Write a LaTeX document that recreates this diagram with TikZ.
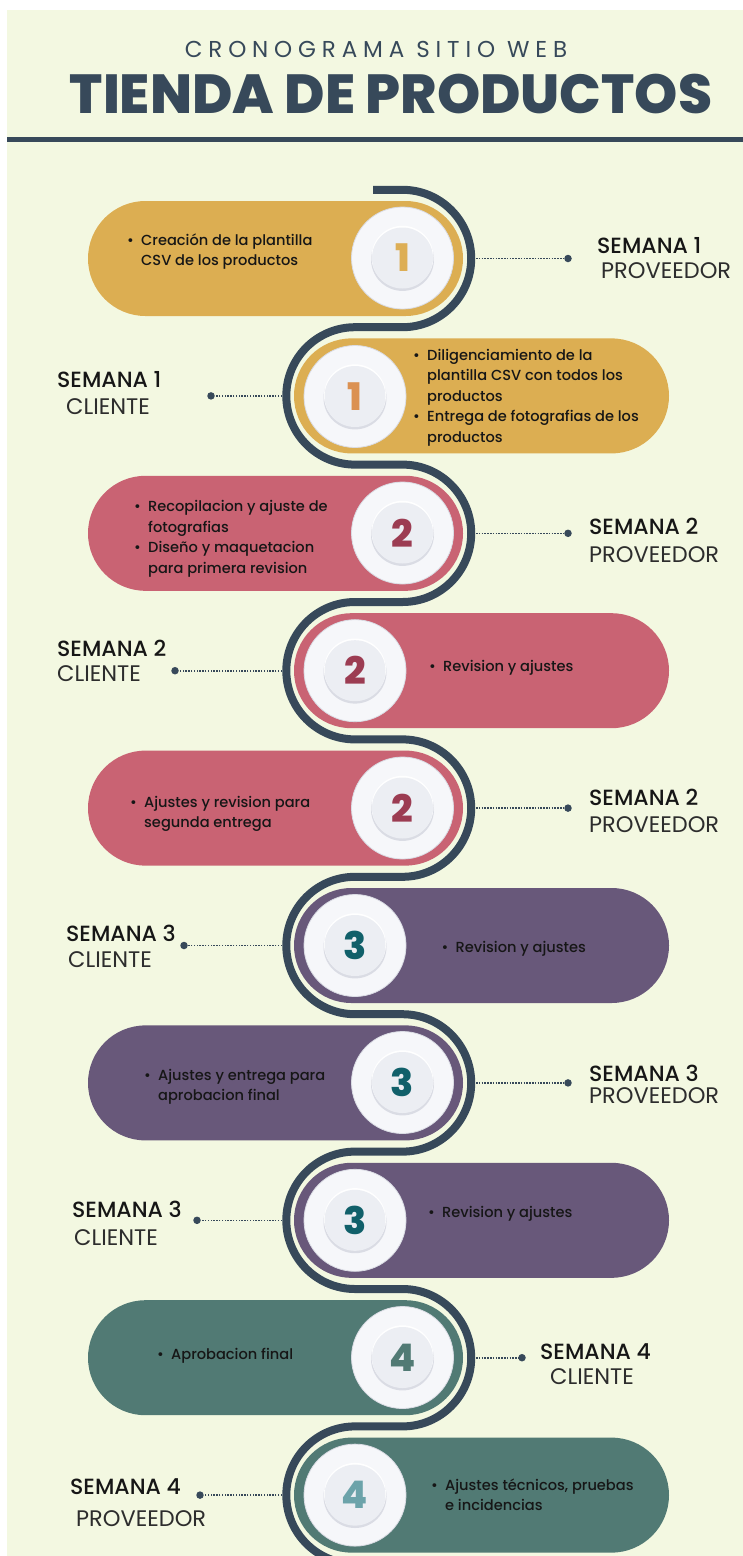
\documentclass[tikz,border=0pt]{standalone}
\usepackage{fontspec}
\setmainfont{Poppins}
\newfontfamily\kickerfont[LetterSpace=25.5]{Poppins}
\newfontfamily\heavyfont{Poppins ExtraBold}
\newfontfamily\mediumfont{Poppins Medium}
\usetikzlibrary{shapes.misc}

% palette
\definecolor{cream}{HTML}{F3F8E1}
\definecolor{slate}{HTML}{37495A}
\definecolor{gold}{HTML}{DCAE52}
\definecolor{rose}{HTML}{C96373}
\definecolor{plum}{HTML}{68587A}
\definecolor{sea}{HTML}{517A74}
\definecolor{ink}{HTML}{161616}
\definecolor{numgold}{HTML}{DDAE55}
\definecolor{numorange}{HTML}{DB9152}
\definecolor{numwine}{HTML}{9C3C52}
\definecolor{numteal}{HTML}{11606A}
\definecolor{numsea}{HTML}{517A74}
\definecolor{numaqua}{HTML}{6CA3AA}
\definecolor{discin}{HTML}{ECEEF3}
\definecolor{discout}{HTML}{F6F7FA}
\definecolor{discedge}{HTML}{DADCE4}

\newcommand{\taskbullet}{\makebox[14pt][l]{\textbullet}}
\newcommand{\taskindent}{\hspace*{14pt}}
\newcommand{\tasklines}[1]{\parbox[t]{300pt}{\mediumfont\fontsize{14.6}{20.5}\selectfont\raggedright #1}}

\tikzset{
  pill/.style={rounded rectangle, minimum width=375pt, minimum height=115pt, inner sep=0pt},
  plate/.style={circle, minimum size=102pt, inner sep=0pt, fill=discout,
                draw=discedge, line width=0.8pt,
                path picture={
                  \fill[discedge] ([yshift=-1.4pt]path picture bounding box.center) circle (31.5pt);
                  \fill[white] ([yshift=1.2pt]path picture bounding box.center) circle (31pt);
                  \fill[discin] (path picture bounding box.center) circle (30.5pt);
                },
                font=\heavyfont\fontsize{38}{38}\selectfont},
  road/.style={draw=slate, line width=8pt},
  leader/.style={draw=slate, line width=1.6pt, dash pattern=on 1.5pt off 1.3pt},
  pin/.style={circle, fill=slate, minimum size=7.5pt, inner sep=0pt},
  week/.style={anchor=west, inner sep=0pt, text=ink, font=\mediumfont\fontsize{22}{22}\selectfont},
  role/.style={anchor=west, inner sep=0pt, text=ink!90, font=\fontsize{22.5}{22.5}\selectfont},
  task/.style={anchor=base west, inner sep=0pt, text=ink},
}

\begin{document}
\begin{tikzpicture}[x=1pt, y=-1pt]
\path[use as bounding box] (0,0) rectangle (743,1556);
\clip (0,0) rectangle (743,1556);

% page
\fill[white] (0,0) rectangle (743,1556);
\fill[cream] (7,10) rectangle (743,1556);

% heading
\node[text=slate, font=\kickerfont\fontsize{23}{23}\selectfont] (kicker) at (376,49) {CRONOGRAMA SITIO WEB};
\node[text=slate, font=\heavyfont\fontsize{55}{55}\selectfont] (title) at (391,94) {TIENDA DE PRODUCTOS};
\fill[slate] (7,137) rectangle (743,142);

% winding road
\draw[road] (373,189.8) -- (402.5,189.8) arc(-90:90:68.7)
  -- (355,327.2) arc(270:90:68.7)
  -- (402.5,464.6) arc(-90:90:68.7)
  -- (355,602) arc(270:90:68.7)
  -- (402.5,739.4) arc(-90:90:68.7)
  -- (355,876.8) arc(270:90:68.7)
  -- (402.5,1014.2) arc(-90:90:68.7)
  -- (355,1151.6) arc(270:90:68.7)
  -- (402.5,1289) arc(-90:90:68.7)
  -- (355,1426.4) arc(270:90:68.7);

% step bars
\node[pill, fill=gold] (p1)  at (275.5,258.5)  {};
\node[pill, fill=gold] (p2)  at (481.5,395.9)  {};
\node[pill, fill=rose] (p3)  at (275.5,533.3)  {};
\node[pill, fill=rose] (p4)  at (481.5,670.7)  {};
\node[pill, fill=rose] (p5)  at (275.5,808.1)  {};
\node[pill, fill=plum] (p6)  at (481.5,945.5)  {};
\node[pill, fill=plum] (p7)  at (275.5,1082.9) {};
\node[pill, fill=plum] (p8)  at (481.5,1220.3) {};
\node[pill, fill=sea]  (p9)  at (275.5,1357.7) {};
\node[pill, fill=sea]  (p10) at (481.5,1495.1) {};

% number plates
\node[plate, text=numgold]   (c1)  at (402.5,258)    {1};
\node[plate, text=numorange] (c2)  at (355,396.5)    {1};
\node[plate, text=numwine]   (c3)  at (402.5,533)    {2};
\node[plate, text=numwine]   (c4)  at (355,670.7)    {2};
\node[plate, text=numwine]   (c5)  at (402.5,808)    {2};
\node[plate, text=numteal]   (c6)  at (355,945.5)    {3};
\node[plate, text=numteal]   (c7)  at (402.5,1082.5) {3};
\node[plate, text=numteal]   (c8)  at (355,1220.3)   {3};
\node[plate, text=numsea]    (c9)  at (402.5,1357.5) {4};
\node[plate, text=numaqua]   (c10) at (355,1495.1)   {4};

% task texts
\node[task] (t1) at (127,245) {\tasklines{\taskbullet Creación de la plantilla\\\taskindent CSV de los productos}};
\node[task] (t2) at (413,360) {\tasklines{\taskbullet Diligenciamiento de la\\\taskindent plantilla CSV con todos los\\\taskindent productos\\\taskbullet Entrega de fotografias de los\\\taskindent productos}};
\node[task] (t3) at (134,511.5) {\tasklines{\taskbullet Recopilacion y ajuste de\\\taskindent fotografias\\\taskbullet Diseño y maquetacion\\\taskindent para primera revision}};
\node[task] (t4) at (429,671) {\tasklines{\taskbullet Revision y ajustes}};
\node[task] (t5) at (130,807) {\tasklines{\taskbullet Ajustes y revision para\\\taskindent segunda entrega}};
\node[task] (t6) at (441.5,952.5) {\tasklines{\taskbullet Revision y ajustes}};
\node[task] (t7) at (144,1080) {\tasklines{\taskbullet Ajustes y entrega para\\\taskindent aprobacion final}};
\node[task] (t8) at (428,1217) {\tasklines{\taskbullet Revision y ajustes}};
\node[task] (t9) at (157,1359) {\tasklines{\taskbullet Aprobacion final}};
\node[task] (t10) at (431,1490) {\tasklines{\taskbullet Ajustes técnicos, pruebas\\\taskindent e incidencias}};

% leader ends on the road
\coordinate (e1)  at (476,258.5);
\coordinate (e2)  at (282,395.9);
\coordinate (e3)  at (476,533.3);
\coordinate (e4)  at (282,670.7);
\coordinate (e5)  at (476,808.1);
\coordinate (e6)  at (282,945.5);
\coordinate (e7)  at (476,1082.9);
\coordinate (e8)  at (282,1220.3);
\coordinate (e9)  at (476,1357.7);
\coordinate (e10) at (282,1495.1);

% leader pins
\node[pin] (d1)  at (568,258.5)  {};
\node[pin] (d2)  at (211,395.9)  {};
\node[pin] (d3)  at (568,533.3)  {};
\node[pin] (d4)  at (175,670.7)  {};
\node[pin] (d5)  at (568,808.1)  {};
\node[pin] (d6)  at (184,945.5)  {};
\node[pin] (d7)  at (568,1082.9) {};
\node[pin] (d8)  at (197,1220.3) {};
\node[pin] (d9)  at (522,1357.7) {};
\node[pin] (d10) at (200,1495.1) {};

\foreach \i in {1,...,10} { \draw[leader] (e\i) -- (d\i); }

% week and role labels
\node[week] (w1)  at (597,246)  {SEMANA 1};
\node[role] (r1)  at (601,271)  {PROVEEDOR};
\node[week] (w2)  at (57,380)   {SEMANA 1};
\node[role] (r2)  at (66,407)   {CLIENTE};
\node[week] (w3)  at (589,526)  {SEMANA 2};
\node[role] (r3)  at (589,555)  {PROVEEDOR};
\node[week] (w4)  at (57,648)   {SEMANA 2};
\node[role] (r4)  at (57,674)   {CLIENTE};
\node[week] (w5)  at (589,797)  {SEMANA 2};
\node[role] (r5)  at (589,825)  {PROVEEDOR};
\node[week] (w6)  at (66,933)   {SEMANA 3};
\node[role] (r6)  at (68,960)   {CLIENTE};
\node[week] (w7)  at (589,1073) {SEMANA 3};
\node[role] (r7)  at (589,1096) {PROVEEDOR};
\node[week] (w8)  at (72,1209)  {SEMANA 3};
\node[role] (r8)  at (74,1238)  {CLIENTE};
\node[week] (w9)  at (540,1352) {SEMANA 4};
\node[role] (r9)  at (550,1377) {CLIENTE};
\node[week] (w10) at (70,1487)  {SEMANA 4};
\node[role] (r10) at (76,1519)  {PROVEEDOR};
\end{tikzpicture}
\end{document}
